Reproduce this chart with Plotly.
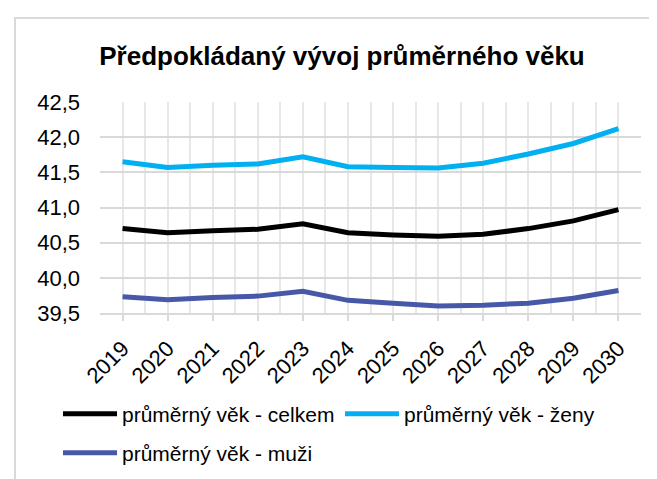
import plotly.graph_objects as go

years = [2019, 2020, 2021, 2022, 2023, 2024, 2025, 2026, 2027, 2028, 2029, 2030]
year_labels = [str(y) for y in years]
celkem = [40.70, 40.64, 40.67, 40.69, 40.77, 40.64, 40.61, 40.59, 40.62, 40.70, 40.81, 40.97]
zeny = [41.65, 41.57, 41.60, 41.62, 41.72, 41.58, 41.57, 41.56, 41.63, 41.76, 41.91, 42.12]
muzi = [39.73, 39.69, 39.72, 39.74, 39.81, 39.68, 39.64, 39.60, 39.61, 39.64, 39.71, 39.82]
names = ["průměrný věk - celkem", "průměrný věk - ženy", "průměrný věk - muži"]
colors = ["#000000", "#00B0F0", "#4758A8"]

W, H = 657, 479
L, R, T, B = 92, 24, 94, 174

fig = go.Figure()
fig.add_trace(go.Scatter(x=years, y=celkem, name=names[0], mode="lines", showlegend=True,
                         line=dict(color=colors[0], width=5), legend="legend"))
fig.add_trace(go.Scatter(x=years, y=zeny, name=names[1], mode="lines", showlegend=True,
                         line=dict(color=colors[1], width=5), legend="legend3"))
fig.add_trace(go.Scatter(x=years, y=muzi, name=names[2], mode="lines", showlegend=True,
                         line=dict(color=colors[2], width=5), legend="legend2"))

pw = W - L - R
ph = H - T - B

def px_x(p):
    return (p - L) / pw

def px_y(p):
    return (H - B - p) / ph

def leg(xpx, ypx):
    return dict(orientation="h", xref="container", yref="container",
                x=xpx / W, xanchor="left", y=1 - ypx / H, yanchor="middle",
                font=dict(size=21), bgcolor="rgba(0,0,0,0)", itemwidth=54)

fig.update_layout(
    width=W, height=H,
    showlegend=True,
    margin=dict(l=L, r=R, t=T, b=B, autoexpand=False),
    paper_bgcolor="white", plot_bgcolor="white",
    separators=", ",
    font=dict(family="Liberation Sans, Arial, sans-serif", color="#000000"),
    title=dict(text="<b>Předpokládaný vývoj průměrného věku</b>",
               font=dict(size=26, color="#000000"),
               x=334 / W, xanchor="center", xref="container",
               y=1 - 48 / H, yanchor="middle", yref="container"),
    xaxis=dict(
        range=[2018.5, 2030.5],
        tickmode="array", tickvals=years, ticktext=year_labels,
        tickangle=-45, tickfont=dict(size=22), ticklabelstandoff=6,
        ticks="outside", ticklen=6, tickcolor="#D9D9D9", tickwidth=1.5,
        showgrid=True, gridcolor="#E8E8E8", gridwidth=1.5,
        minor=dict(tickmode="linear", tick0=2018.5, dtick=0.5, showgrid=True,
                   gridcolor="#E8E8E8", gridwidth=1.5),
        showline=True, linecolor="#D9D9D9", linewidth=2,
        zeroline=False, fixedrange=True,
    ),
    yaxis=dict(
        range=[39.5, 42.5], dtick=0.5, tick0=39.5, tickformat=".1f",
        tickfont=dict(size=22), ticklabelstandoff=19,
        showgrid=True, gridcolor="#D9D9D9", gridwidth=1.5,
        showline=False, zeroline=False, ticks="",
    ),
    legend=leg(50, 406),
    legend3=leg(332, 406),
    legend2=leg(50, 445),
    shapes=[dict(type="rect", xref="paper", yref="paper",
                 x0=px_x(7), x1=px_x(700), y0=px_y(600), y1=px_y(10),
                 line=dict(color="#D9D9D9", width=2), layer="below")],
)

fig.write_html("out.html")
